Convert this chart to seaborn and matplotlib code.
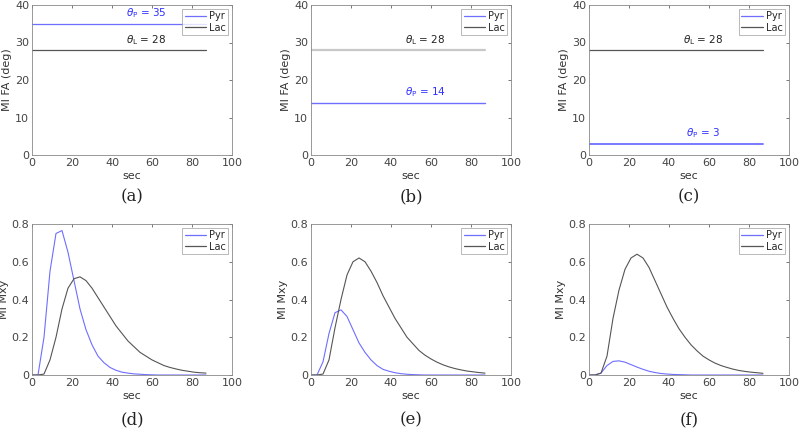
import numpy as np
import pandas as pd
import seaborn as sns
import matplotlib.pyplot as plt
from matplotlib.lines import Line2D

# time axis (sec)
t = list(range(0, 90, 3))

# flip angle schemes (deg)
fa_pyr = [35, 14, 3]
fa_lac = [28, 28, 28]

# Mxy curves
pyr_d = [0, 0, 0.2, 0.55, 0.75, 0.765, 0.65, 0.5, 0.35, 0.24, 0.16, 0.1, 0.065, 0.04, 0.025,
         0.015, 0.01, 0.006, 0.004, 0.002, 0.001, 0, 0, 0, 0, 0, 0, 0, 0, 0]
lac_d = [0, 0, 0.005, 0.08, 0.2, 0.35, 0.46, 0.51, 0.52, 0.5, 0.46, 0.41, 0.36, 0.31, 0.26,
         0.22, 0.18, 0.15, 0.12, 0.1, 0.08, 0.065, 0.05, 0.04, 0.032, 0.025, 0.02, 0.015, 0.012, 0.01]
pyr_e = [0, 0, 0.07, 0.22, 0.33, 0.345, 0.31, 0.24, 0.17, 0.12, 0.08, 0.05, 0.03, 0.02, 0.012,
         0.007, 0.004, 0.002, 0.001, 0, 0, 0, 0, 0, 0, 0, 0, 0, 0, 0]
lac_e = [0, 0, 0.005, 0.08, 0.25, 0.4, 0.53, 0.6, 0.62, 0.6, 0.55, 0.49, 0.42, 0.36, 0.3,
         0.25, 0.2, 0.165, 0.13, 0.105, 0.085, 0.068, 0.054, 0.043, 0.034, 0.027, 0.021, 0.017, 0.013, 0.01]
pyr_f = [0, 0, 0.01, 0.05, 0.072, 0.075, 0.068, 0.055, 0.042, 0.03, 0.02, 0.013, 0.008, 0.005, 0.003,
         0.002, 0.001, 0, 0, 0, 0, 0, 0, 0, 0, 0, 0, 0, 0, 0]
lac_f = [0, 0, 0.01, 0.1, 0.3, 0.45, 0.56, 0.62, 0.64, 0.62, 0.57, 0.5, 0.43, 0.36, 0.3,
         0.245, 0.2, 0.16, 0.128, 0.1, 0.08, 0.063, 0.05, 0.04, 0.031, 0.024, 0.019, 0.015, 0.012, 0.009]

captions = ['(a)', '(b)', '(c)', '(d)', '(e)', '(f)']

sns.set_style("white")
plt.rcParams['font.family'] = ['DejaVu Sans']
plt.rcParams['mathtext.fontset'] = 'dejavusans'

blue = '#6e6eff'
dark = '#555555'
light = '#c8c8c8'

fig = plt.figure(figsize=(7.99, 4.29), dpi=100)
lefts = [32 / 799, 311 / 799, 589 / 799]
w = 200 / 799
axes_top = [fig.add_axes([l, 274 / 429, w, 150 / 429]) for l in lefts]
axes_bot = [fig.add_axes([l, 54 / 429, w, 151 / 429]) for l in lefts]

def style(ax, ylim, yticks, ylabel):
    ax.set_xlim(0, 100)
    ax.set_ylim(*ylim)
    ax.set_xticks([0, 20, 40, 60, 80, 100])
    ax.set_yticks(yticks)
    ax.tick_params(direction='in', length=2.5, width=0.5, labelsize=8, colors='#444444',
                   top=True, right=True, pad=2)
    for s in ax.spines.values():
        s.set_linewidth(0.6)
        s.set_color('#888888')
    ax.set_xlabel('sec', fontsize=8, color='#333333', labelpad=2.5)
    ax.set_ylabel(ylabel, fontsize=8, color='#333333', labelpad=2)
    handles = [Line2D([], [], color=blue, lw=0.9), Line2D([], [], color=dark, lw=0.9)]
    leg = ax.legend(handles, ['Pyr', 'Lac'], loc='upper right', fontsize=7, frameon=True,
                    fancybox=False, handlelength=2.2, borderpad=0.25, labelspacing=0.15,
                    handletextpad=0.3, borderaxespad=0.4)
    leg.get_frame().set_edgecolor('#999999')
    leg.get_frame().set_linewidth(0.6)

# top row: flip angles
lac_colors = [dark, light, dark]
lac_widths = [0.9, 1.6, 0.9]
pyr_widths = [0.9, 1.0, 1.3]
for i, ax in enumerate(axes_top):
    df = pd.DataFrame({'sec': t, 'Pyr': [fa_pyr[i]] * len(t), 'Lac': [fa_lac[i]] * len(t)})
    sns.lineplot(data=df, x='sec', y='Pyr', ax=ax, color=blue, linewidth=pyr_widths[i])
    sns.lineplot(data=df, x='sec', y='Lac', ax=ax, color=lac_colors[i], linewidth=lac_widths[i])
    ax.text(57, fa_pyr[i] + 0.9, r'$\theta_{\rm P}$ = %d' % fa_pyr[i], color='#3030ff',
            fontsize=7.5, ha='center', va='bottom')
    ax.text(57, fa_lac[i] + 0.9, r'$\theta_{\rm L}$ = %d' % fa_lac[i], color='#222222',
            fontsize=7.5, ha='center', va='bottom')
    style(ax, (0, 40), [0, 10, 20, 30, 40], 'MI FA (deg)')

# bottom row: Mxy
pyr_all = [pyr_d, pyr_e, pyr_f]
lac_all = [lac_d, lac_e, lac_f]
for i, ax in enumerate(axes_bot):
    df = pd.DataFrame({'sec': t, 'Pyr': pyr_all[i], 'Lac': lac_all[i]})
    sns.lineplot(data=df, x='sec', y='Pyr', ax=ax, color=blue, linewidth=0.8)
    sns.lineplot(data=df, x='sec', y='Lac', ax=ax, color=dark, linewidth=0.8)
    style(ax, (0, 0.8), [0, 0.2, 0.4, 0.6, 0.8], 'MI Mxy')
    ax.set_yticklabels(['0', '0.2', '0.4', '0.6', '0.8'])

# captions
for i, ax in enumerate(axes_top + axes_bot):
    pos = ax.get_position()
    y = (429 - 197) / 429 if i < 3 else (429 - 420) / 429
    fig.text(pos.x0 + pos.width / 2, y, captions[i], fontsize=12, family='DejaVu Serif',
             ha='center', va='center', color='#222222')

fig.savefig('out.png', dpi=100)
